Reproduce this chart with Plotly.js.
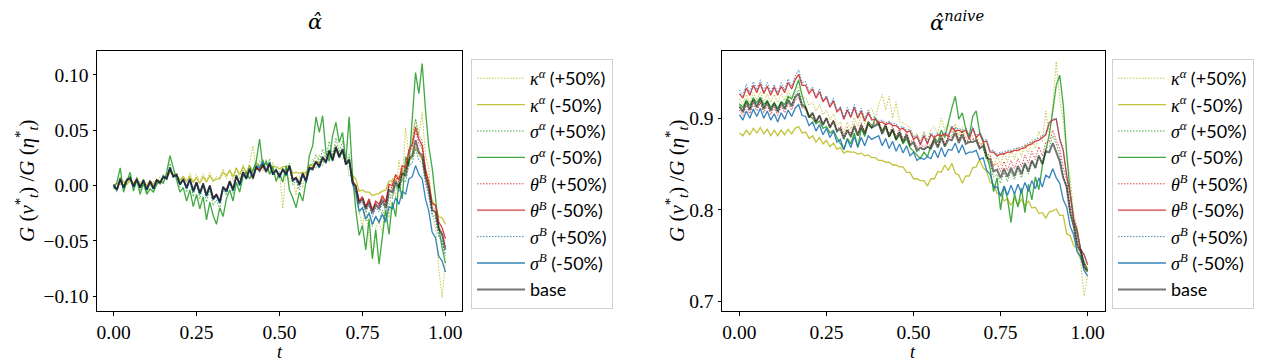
<!DOCTYPE html>
<html>
<head>
<meta charset="utf-8">
<script src="https://cdn.plot.ly/plotly-3.0.1.min.js"></script>
<style>html,body{margin:0;padding:0;background:#fff;}#plot{width:1269px;height:363px;}</style>
</head>
<body>
<div id="plot"></div>
<script>
// time grid
const t = [0.00,0.01,0.02,0.03,0.04,0.05,0.06,0.07,0.08,0.09,
0.10,0.11,0.12,0.13,0.14,0.15,0.16,0.17,0.18,0.19,
0.20,0.21,0.22,0.23,0.24,0.25,0.26,0.27,0.28,0.29,
0.30,0.31,0.32,0.33,0.34,0.35,0.36,0.37,0.38,0.39,
0.40,0.41,0.42,0.43,0.44,0.45,0.46,0.47,0.48,0.49,
0.50,0.51,0.52,0.53,0.54,0.55,0.56,0.57,0.58,0.59,
0.60,0.61,0.62,0.63,0.64,0.65,0.66,0.67,0.68,0.69,
0.70,0.71,0.72,0.73,0.74,0.75,0.76,0.77,0.78,0.79,
0.80,0.81,0.82,0.83,0.84,0.85,0.86,0.87,0.88,0.89,
0.90,0.91,0.92,0.93,0.94,0.95,0.96,0.97,0.98,0.99,1.00];

const seriesNames = ["κ^α (+50%)","κ^α (-50%)","σ^α (+50%)","σ^α (-50%)","θ^B (+50%)","θ^B (-50%)","σ^B (+50%)","σ^B (-50%)","base"];

// ---- left panel: alpha-hat ----
const L_kappa_p = [0.000,-0.003,0.005,0.000,0.006,0.002,0.005,0.001,0.004,0.001,
0.003,-0.001,0.004,0.001,0.008,0.003,0.011,0.014,0.009,0.011,
0.004,0.009,0.003,0.011,0.003,0.010,0.003,0.011,0.004,0.012,
0.004,0.008,0.007,0.015,0.006,0.014,0.004,0.016,0.006,0.019,
0.010,0.021,0.036,0.014,0.023,0.013,0.024,0.011,0.021,0.003,
0.013,-0.021,0.015,0.003,0.006,-0.009,0.009,-0.002,0.013,0.012,
0.024,0.015,0.028,0.017,0.031,0.029,0.029,0.037,0.027,0.024,
0.027,0.008,0.011,-0.013,-0.023,-0.037,-0.017,-0.048,-0.066,-0.038,
-0.033,-0.043,-0.013,-0.029,0.007,-0.011,0.023,0.003,0.052,0.027,
0.047,0.060,0.046,0.066,0.027,0.015,-0.025,-0.037,-0.075,-0.101,-0.068];
const L_kappa_m = [0.000,0.002,0.001,0.004,0.001,0.005,0.002,0.005,0.001,0.004,
0.000,0.004,0.001,0.005,0.004,0.007,0.007,0.012,0.009,0.010,
0.005,0.008,0.004,0.008,0.003,0.007,0.002,0.008,0.003,0.009,
0.004,0.006,0.006,0.012,0.009,0.014,0.008,0.016,0.010,0.017,
0.012,0.018,0.013,0.020,0.018,0.019,0.019,0.019,0.017,0.017,
0.015,0.017,0.017,0.018,0.011,0.012,0.011,0.012,0.011,0.018,
0.018,0.020,0.021,0.022,0.023,0.029,0.022,0.032,0.025,0.031,
0.021,0.020,0.009,0.006,-0.005,-0.004,-0.006,-0.006,-0.009,-0.008,
-0.007,-0.005,-0.004,0.004,0.004,0.005,0.008,0.010,0.014,0.022,
0.025,0.035,0.028,0.024,0.010,0.000,-0.014,-0.018,-0.028,-0.029,-0.035];
const L_sigA_p = [0.000,-0.006,0.008,-0.004,0.006,0.009,-0.003,0.008,-0.004,0.006,
-0.007,0.005,-0.005,0.006,0.002,0.010,0.006,0.020,0.007,0.010,
-0.001,0.006,-0.006,0.005,-0.010,0.002,-0.012,0.000,-0.015,-0.003,
-0.018,-0.013,-0.021,-0.004,-0.009,0.003,-0.007,0.010,-0.001,0.014,
0.007,0.018,0.007,0.021,0.017,0.024,0.013,0.024,0.009,0.015,
0.006,0.016,0.008,0.020,0.001,0.004,-0.004,0.010,0.002,0.019,
0.019,0.028,0.021,0.033,0.025,0.040,0.027,0.043,0.030,0.040,
0.021,0.028,0.001,-0.006,-0.025,-0.020,-0.032,-0.024,-0.037,-0.027,
-0.034,-0.022,-0.031,-0.010,-0.012,0.002,-0.004,0.014,0.012,0.032,
0.040,0.060,0.045,0.041,0.013,-0.002,-0.025,-0.028,-0.045,-0.050,-0.063];
const L_sigA_m = [-0.003,0.003,0.016,-0.006,0.004,0.012,-0.005,0.005,-0.008,0.002,
-0.008,-0.003,-0.006,0.001,0.004,0.002,0.012,0.027,0.016,0.004,
-0.006,-0.002,-0.014,-0.004,-0.019,-0.008,-0.021,-0.010,-0.031,-0.015,
-0.027,-0.035,-0.020,-0.028,-0.012,-0.004,-0.014,0.003,-0.006,0.008,
0.012,0.006,0.015,0.022,0.042,0.016,0.022,0.010,0.017,0.004,
0.011,0.003,0.018,-0.004,-0.011,-0.020,-0.006,-0.014,0.004,0.027,
0.036,0.062,0.048,0.063,0.030,0.022,0.045,0.057,0.039,0.048,
0.022,0.062,0.010,-0.022,-0.045,-0.036,-0.058,-0.030,-0.066,-0.040,
-0.071,-0.046,-0.022,-0.044,-0.015,-0.028,0.003,-0.012,0.026,0.018,
0.062,0.102,0.083,0.110,0.068,0.035,0.016,-0.012,-0.038,-0.056,-0.070];
const L_thB_p = [0.000,-0.003,0.005,-0.001,0.004,0.006,0.000,0.005,-0.001,0.004,
-0.003,0.003,-0.002,0.004,0.003,0.007,0.007,0.015,0.009,0.009,
0.002,0.005,-0.002,0.005,-0.005,0.002,-0.007,0.001,-0.009,-0.001,
-0.012,-0.009,-0.014,-0.002,-0.005,0.003,-0.003,0.008,0.002,0.011,
0.007,0.014,0.007,0.016,0.014,0.018,0.013,0.019,0.011,0.013,
0.009,0.014,0.011,0.017,0.006,0.006,0.002,0.010,0.005,0.015,
0.016,0.021,0.018,0.025,0.022,0.031,0.024,0.034,0.027,0.032,
0.020,0.023,0.004,-0.001,-0.015,-0.011,-0.020,-0.013,-0.023,-0.015,
-0.019,-0.011,-0.017,-0.001,-0.002,0.008,0.003,0.015,0.013,0.029,
0.034,0.049,0.038,0.033,0.012,0.000,-0.019,-0.022,-0.037,-0.043,-0.055];
const L_thB_m = [0.001,-0.003,0.006,-0.001,0.005,0.006,0.000,0.006,-0.001,0.004,
-0.003,0.004,-0.002,0.005,0.003,0.008,0.007,0.015,0.009,0.009,
0.002,0.005,-0.001,0.005,-0.004,0.003,-0.006,0.001,-0.008,0.000,
-0.011,-0.008,-0.014,-0.002,-0.004,0.004,-0.003,0.008,0.002,0.012,
0.007,0.014,0.007,0.016,0.014,0.018,0.013,0.019,0.011,0.014,
0.009,0.014,0.011,0.017,0.006,0.007,0.002,0.011,0.005,0.016,
0.016,0.021,0.018,0.025,0.022,0.031,0.024,0.034,0.027,0.032,
0.020,0.023,0.004,0.000,-0.014,-0.010,-0.019,-0.012,-0.022,-0.014,
-0.017,-0.009,-0.015,0.001,0.000,0.010,0.005,0.018,0.016,0.032,
0.037,0.053,0.042,0.036,0.015,0.003,-0.016,-0.018,-0.033,-0.038,-0.048];
const L_sigB_p = [0.000,-0.004,0.006,-0.002,0.005,0.007,-0.001,0.006,-0.002,0.005,
-0.004,0.004,-0.003,0.005,0.003,0.009,0.007,0.017,0.008,0.010,
0.001,0.006,-0.002,0.006,-0.005,0.003,-0.007,0.002,-0.009,0.000,
-0.012,-0.008,-0.015,-0.001,-0.005,0.004,-0.004,0.009,0.001,0.012,
0.007,0.016,0.008,0.018,0.015,0.021,0.013,0.021,0.010,0.014,
0.008,0.015,0.010,0.018,0.005,0.007,0.001,0.011,0.004,0.016,
0.015,0.022,0.017,0.026,0.021,0.032,0.023,0.035,0.026,0.033,
0.019,0.023,0.002,-0.003,-0.018,-0.015,-0.024,-0.018,-0.028,-0.020,
-0.024,-0.016,-0.023,-0.008,-0.010,0.000,-0.006,0.006,0.003,0.018,
0.020,0.033,0.023,0.020,0.002,-0.010,-0.027,-0.030,-0.046,-0.051,-0.063];
const L_sigB_m = [0.001,-0.004,0.005,-0.002,0.005,0.006,-0.001,0.005,-0.002,0.004,
-0.004,0.003,-0.003,0.004,0.003,0.008,0.006,0.016,0.008,0.009,
0.001,0.005,-0.003,0.005,-0.006,0.002,-0.008,0.001,-0.010,-0.001,
-0.013,-0.009,-0.016,-0.002,-0.006,0.003,-0.005,0.008,0.000,0.011,
0.006,0.015,0.008,0.018,0.016,0.022,0.013,0.021,0.010,0.014,
0.007,0.014,0.009,0.017,0.004,0.006,0.000,0.010,0.003,0.015,
0.014,0.021,0.016,0.025,0.020,0.031,0.022,0.034,0.025,0.032,
0.019,0.022,0.001,-0.006,-0.023,-0.020,-0.030,-0.025,-0.035,-0.028,
-0.033,-0.026,-0.033,-0.019,-0.021,-0.011,-0.017,-0.005,-0.008,0.006,
0.008,0.018,0.010,0.006,-0.012,-0.023,-0.042,-0.047,-0.064,-0.068,-0.078];
const L_base = [0.000,-0.004,0.006,-0.002,0.005,0.007,-0.001,0.006,-0.002,0.005,
-0.004,0.004,-0.003,0.005,0.002,0.008,0.006,0.016,0.008,0.010,
0.001,0.006,-0.002,0.006,-0.005,0.003,-0.007,0.002,-0.009,0.000,
-0.012,-0.008,-0.015,-0.001,-0.005,0.004,-0.004,0.009,0.001,0.012,
0.006,0.015,0.006,0.017,0.013,0.019,0.012,0.020,0.010,0.014,
0.008,0.015,0.010,0.018,0.005,0.007,0.001,0.011,0.004,0.016,
0.015,0.022,0.017,0.026,0.021,0.032,0.023,0.035,0.026,0.033,
0.019,0.024,0.003,-0.001,-0.016,-0.012,-0.021,-0.015,-0.025,-0.017,
-0.021,-0.013,-0.020,-0.004,-0.006,0.004,-0.002,0.011,0.009,0.024,
0.027,0.041,0.030,0.027,0.008,-0.004,-0.022,-0.024,-0.039,-0.044,-0.058];

// ---- right panel: alpha-hat naive ----
const R_kappa_p = [0.921,0.915,0.926,0.917,0.928,0.920,0.929,0.918,0.927,0.917,
0.926,0.917,0.927,0.919,0.930,0.922,0.931,0.935,0.923,0.923,
0.914,0.918,0.908,0.915,0.904,0.909,0.898,0.905,0.893,0.896,
0.885,0.896,0.888,0.901,0.891,0.904,0.894,0.908,0.911,0.900,
0.915,0.926,0.909,0.924,0.900,0.918,0.896,0.895,0.892,0.890,
0.881,0.883,0.875,0.886,0.876,0.888,0.891,0.883,0.900,0.887,
0.895,0.884,0.894,0.881,0.890,0.878,0.880,0.881,0.882,0.872,
0.873,0.859,0.858,0.847,0.859,0.849,0.863,0.852,0.866,0.855,
0.869,0.858,0.872,0.861,0.877,0.867,0.886,0.875,0.908,0.882,
0.915,0.962,0.922,0.898,0.859,0.835,0.797,0.781,0.742,0.706,0.728];
const R_kappa_m = [0.884,0.881,0.887,0.882,0.889,0.884,0.890,0.883,0.888,0.881,
0.887,0.881,0.887,0.882,0.888,0.883,0.889,0.891,0.884,0.885,
0.878,0.881,0.874,0.879,0.872,0.876,0.869,0.873,0.866,0.868,
0.862,0.864,0.863,0.863,0.861,0.862,0.859,0.860,0.857,0.857,
0.854,0.854,0.852,0.852,0.849,0.849,0.847,0.847,0.841,0.841,
0.834,0.834,0.832,0.832,0.826,0.834,0.834,0.842,0.841,0.849,
0.843,0.851,0.840,0.838,0.829,0.837,0.837,0.846,0.847,0.855,
0.846,0.842,0.830,0.828,0.818,0.818,0.810,0.812,0.805,0.813,
0.805,0.812,0.804,0.810,0.802,0.803,0.796,0.797,0.791,0.798,
0.799,0.801,0.794,0.794,0.774,0.772,0.761,0.758,0.746,0.742,0.733];
const R_sigA_p = [0.915,0.908,0.920,0.910,0.922,0.913,0.923,0.911,0.920,0.909,
0.918,0.908,0.919,0.911,0.922,0.915,0.926,0.931,0.916,0.913,
0.902,0.906,0.895,0.903,0.892,0.900,0.889,0.897,0.885,0.887,
0.876,0.887,0.879,0.892,0.881,0.894,0.884,0.896,0.893,0.893,
0.896,0.883,0.892,0.879,0.888,0.876,0.885,0.873,0.882,0.870,
0.872,0.863,0.866,0.866,0.868,0.868,0.878,0.869,0.882,0.870,
0.880,0.881,0.890,0.876,0.886,0.874,0.875,0.877,0.878,0.867,
0.869,0.854,0.851,0.836,0.839,0.829,0.841,0.831,0.842,0.833,
0.845,0.835,0.849,0.839,0.853,0.845,0.860,0.850,0.867,0.869,
0.881,0.872,0.859,0.837,0.825,0.795,0.781,0.760,0.754,0.737,0.732];
const R_sigA_m = [0.916,0.912,0.920,0.914,0.922,0.917,0.923,0.915,0.919,0.912,
0.917,0.911,0.918,0.915,0.924,0.921,0.931,0.942,0.925,0.912,
0.903,0.900,0.894,0.897,0.889,0.891,0.884,0.887,0.879,0.873,
0.866,0.878,0.872,0.884,0.868,0.889,0.880,0.896,0.889,0.900,
0.894,0.886,0.893,0.880,0.887,0.876,0.882,0.872,0.878,0.868,
0.864,0.860,0.856,0.863,0.858,0.870,0.879,0.874,0.887,0.879,
0.896,0.911,0.924,0.899,0.906,0.889,0.880,0.902,0.908,0.885,
0.876,0.862,0.845,0.820,0.835,0.800,0.826,0.812,0.786,0.818,
0.803,0.824,0.797,0.828,0.811,0.836,0.822,0.848,0.864,0.882,
0.908,0.936,0.947,0.915,0.862,0.818,0.790,0.772,0.757,0.743,0.735];
const R_thB_p = [0.909,0.903,0.914,0.905,0.916,0.908,0.917,0.906,0.914,0.904,
0.912,0.903,0.913,0.906,0.916,0.909,0.919,0.923,0.911,0.910,
0.900,0.905,0.896,0.903,0.894,0.901,0.891,0.898,0.888,0.891,
0.881,0.890,0.883,0.894,0.884,0.895,0.886,0.897,0.893,0.895,
0.897,0.886,0.894,0.883,0.891,0.880,0.888,0.877,0.885,0.874,
0.877,0.868,0.871,0.869,0.872,0.870,0.879,0.871,0.882,0.872,
0.880,0.879,0.887,0.876,0.885,0.875,0.877,0.877,0.879,0.870,
0.873,0.861,0.860,0.848,0.851,0.842,0.853,0.843,0.854,0.845,
0.856,0.847,0.860,0.851,0.864,0.855,0.869,0.859,0.874,0.874,
0.887,0.876,0.867,0.846,0.833,0.803,0.788,0.766,0.758,0.741,0.736];
const R_thB_m = [0.927,0.922,0.933,0.925,0.936,0.928,0.938,0.927,0.935,0.925,
0.934,0.925,0.935,0.928,0.939,0.932,0.942,0.948,0.936,0.936,
0.927,0.932,0.922,0.929,0.918,0.923,0.912,0.919,0.907,0.911,
0.899,0.909,0.901,0.912,0.900,0.908,0.897,0.906,0.898,0.899,
0.895,0.896,0.893,0.895,0.892,0.892,0.888,0.889,0.885,0.886,
0.877,0.880,0.871,0.881,0.872,0.882,0.879,0.882,0.881,0.883,
0.880,0.890,0.886,0.887,0.885,0.887,0.877,0.889,0.879,0.883,
0.874,0.875,0.863,0.863,0.859,0.861,0.861,0.863,0.863,0.865,
0.865,0.867,0.868,0.871,0.872,0.875,0.876,0.879,0.882,0.895,
0.898,0.899,0.877,0.865,0.837,0.818,0.789,0.778,0.757,0.751,0.740];
const R_sigB_p = [0.931,0.925,0.937,0.928,0.940,0.931,0.942,0.930,0.939,0.928,
0.937,0.928,0.939,0.931,0.943,0.935,0.946,0.953,0.939,0.940,
0.930,0.934,0.924,0.932,0.920,0.925,0.914,0.922,0.909,0.913,
0.901,0.912,0.903,0.915,0.902,0.911,0.899,0.909,0.900,0.901,
0.897,0.898,0.895,0.897,0.894,0.894,0.890,0.891,0.887,0.888,
0.879,0.882,0.873,0.883,0.874,0.884,0.881,0.884,0.883,0.885,
0.882,0.892,0.888,0.889,0.887,0.889,0.879,0.891,0.881,0.885,
0.876,0.877,0.865,0.865,0.861,0.863,0.863,0.865,0.865,0.867,
0.867,0.869,0.870,0.873,0.874,0.877,0.878,0.881,0.884,0.896,
0.899,0.900,0.878,0.866,0.838,0.819,0.790,0.779,0.758,0.752,0.741];
const R_sigB_m = [0.904,0.898,0.908,0.900,0.910,0.902,0.911,0.900,0.908,0.898,
0.905,0.896,0.906,0.899,0.909,0.902,0.911,0.915,0.903,0.902,
0.892,0.896,0.886,0.893,0.882,0.889,0.879,0.886,0.874,0.877,
0.866,0.877,0.868,0.880,0.869,0.879,0.870,0.881,0.877,0.879,
0.881,0.870,0.878,0.867,0.875,0.864,0.872,0.862,0.870,0.859,
0.863,0.854,0.857,0.855,0.858,0.856,0.865,0.857,0.868,0.858,
0.866,0.865,0.873,0.862,0.871,0.861,0.863,0.863,0.865,0.855,
0.857,0.843,0.839,0.825,0.825,0.815,0.826,0.816,0.827,0.817,
0.828,0.818,0.830,0.820,0.832,0.823,0.835,0.825,0.838,0.835,
0.845,0.835,0.829,0.811,0.803,0.782,0.773,0.754,0.749,0.734,0.728];
const R_base = [0.913,0.907,0.918,0.909,0.920,0.912,0.921,0.910,0.918,0.908,
0.916,0.907,0.917,0.910,0.920,0.913,0.923,0.927,0.914,0.912,
0.901,0.906,0.896,0.903,0.893,0.900,0.890,0.897,0.886,0.889,
0.878,0.887,0.880,0.891,0.881,0.892,0.883,0.894,0.890,0.892,
0.894,0.883,0.891,0.880,0.888,0.877,0.885,0.874,0.882,0.871,
0.874,0.865,0.868,0.866,0.869,0.867,0.876,0.868,0.879,0.869,
0.877,0.876,0.884,0.873,0.882,0.872,0.874,0.874,0.876,0.867,
0.870,0.857,0.855,0.842,0.844,0.835,0.845,0.836,0.846,0.837,
0.848,0.839,0.851,0.842,0.854,0.846,0.859,0.850,0.864,0.863,
0.873,0.863,0.853,0.835,0.825,0.797,0.783,0.762,0.755,0.738,0.733];

const xTicks = [0, 0.25, 0.5, 0.75, 1.0];
const yTicksLeft = [-0.10, -0.05, 0.00, 0.05, 0.10];
const yTicksRight = [0.7, 0.8, 0.9];

// ---- styling ----
const W = 1269, H = 363;
const px = v => v / W, py = v => 1 - v / H;
const leftData = [L_kappa_p, L_kappa_m, L_sigA_p, L_sigA_m, L_thB_p, L_thB_m, L_sigB_p, L_sigB_m, L_base];
const rightData = [R_kappa_p, R_kappa_m, R_sigA_p, R_sigA_m, R_thB_p, R_thB_m, R_sigB_p, R_sigB_m, R_base];
const colors = ['#bcbd22','#bcbd22','#2ca02c','#2ca02c','#d62728','#d62728','#1f77b4','#1f77b4','rgba(0,0,0,0.6)'];
const dotted = [true,false,true,false,true,false,true,false,false];

function labelHTML(name) {
  if (name === 'base') return 'base';
  const sym = name.split(' ')[0];
  const rest = name.slice(sym.length);
  const parts = sym.split('^');
  return "<span style=\"font-family:'Liberation Serif'\"><i>" + parts[0] + "</i><sup><i>" + parts[1] + "</i></sup></span>" + rest;
}

const traces = [];
function addPanel(data, xa, ya, leg) {
  data.forEach((ys, i) => {
    traces.push({
      x: t, y: ys, type: 'scatter', mode: 'lines',
      name: labelHTML(seriesNames[i]),
      xaxis: xa, yaxis: ya, legend: leg,
      legendgroup: leg + i,
      opacity: dotted[i] ? 0.85 : 0.9,
      line: {
        color: colors[i],
        width: i === 8 ? 2.0 : (dotted[i] ? 1.0 : 1.3),
        dash: dotted[i] ? '1.5px,1.5px' : 'solid'
      },
      hoverinfo: 'skip'
    });
  });
}
addPanel(leftData, 'x', 'y', 'legend');
addPanel(rightData, 'x2', 'y2', 'legend2');

const serif = 'Liberation Serif, DejaVu Serif, serif';
const tickFont = {family: serif, size: 19.5, color: '#000'};
function xAxis(dom, anchor) {
  return {domain: dom, anchor: anchor, range: [-0.05, 1.05], tickvals: xTicks, tickformat: '.2f',
    ticks: 'outside', ticklen: 3.5, tickwidth: 1, tickcolor: '#000', showline: true, mirror: true,
    linecolor: '#000', linewidth: 1, showgrid: false, zeroline: false, tickfont: tickFont};
}
function yAxis(dom, anchor, range, ticks, fmt) {
  return {domain: dom, anchor: anchor, range: range, tickvals: ticks, tickformat: fmt,
    ticks: 'outside', ticklen: 3.5, tickwidth: 1, tickcolor: '#000', showline: true, mirror: true,
    linecolor: '#000', linewidth: 1, showgrid: false, zeroline: false, tickfont: tickFont};
}
const yDom = [py(311), py(51)];
const legendCommon = {
  xanchor: 'left', yanchor: 'top', bgcolor: '#fff', bordercolor: '#d0d0d0', borderwidth: 1,
  font: {family: 'Lato, Open Sans, sans-serif', size: 18, color: '#000'},
  itemwidth: 48, tracegroupgap: 0
};
const ylabel = "<i>G</i> (<i>ν</i><sup>*</sup><sub><i>t</i></sub>) /<i>G</i> (<i>η</i><sup>*</sup><sub><i>t</i></sub>)";
function ann(text, x, y, size, extra, fam) {
  return Object.assign({text: text, x: px(x), y: py(y), xref: 'paper', yref: 'paper', showarrow: false,
    xanchor: 'center', yanchor: 'middle', font: {family: fam || serif, size: size, color: '#000'}}, extra || {});
}
const titleFont = 'DejaVu Serif, Liberation Serif, serif';
const layout = {
  width: W, height: H, margin: {l: 0, r: 0, t: 0, b: 0},
  paper_bgcolor: '#fff', plot_bgcolor: '#fff', showlegend: true,
  xaxis: xAxis([px(97), px(462)], 'y'),
  yaxis: yAxis(yDom, 'x', [-0.1132, 0.1214], yTicksLeft, '.2f'),
  xaxis2: xAxis([px(722), px(1105)], 'y2'),
  yaxis2: yAxis(yDom, 'x2', [0.6897, 0.9734], yTicksRight, '.1f'),
  legend: Object.assign({x: px(471), y: py(59)}, legendCommon),
  legend2: Object.assign({x: px(1112), y: py(59)}, legendCommon),
  annotations: [
    ann('<i>α\u0302</i>', 315, 22, 21, null, titleFont),
    ann('<i>α\u0302</i><sup><i>naive</i></sup>', 957, 21, 21, null, titleFont),
    ann('<i>t</i>', 280, 363, 18, {yanchor: 'bottom', borderpad: 0}),
    ann('<i>t</i>', 913, 363, 18, {yanchor: 'bottom', borderpad: 0}),
    ann(ylabel, 26, 181, 21, {textangle: -90}),
    ann(ylabel, 676, 181, 21, {textangle: -90})
  ]
};
Plotly.newPlot('plot', traces, layout, {staticPlot: true, displayModeBar: false});
</script>
</body>
</html>
